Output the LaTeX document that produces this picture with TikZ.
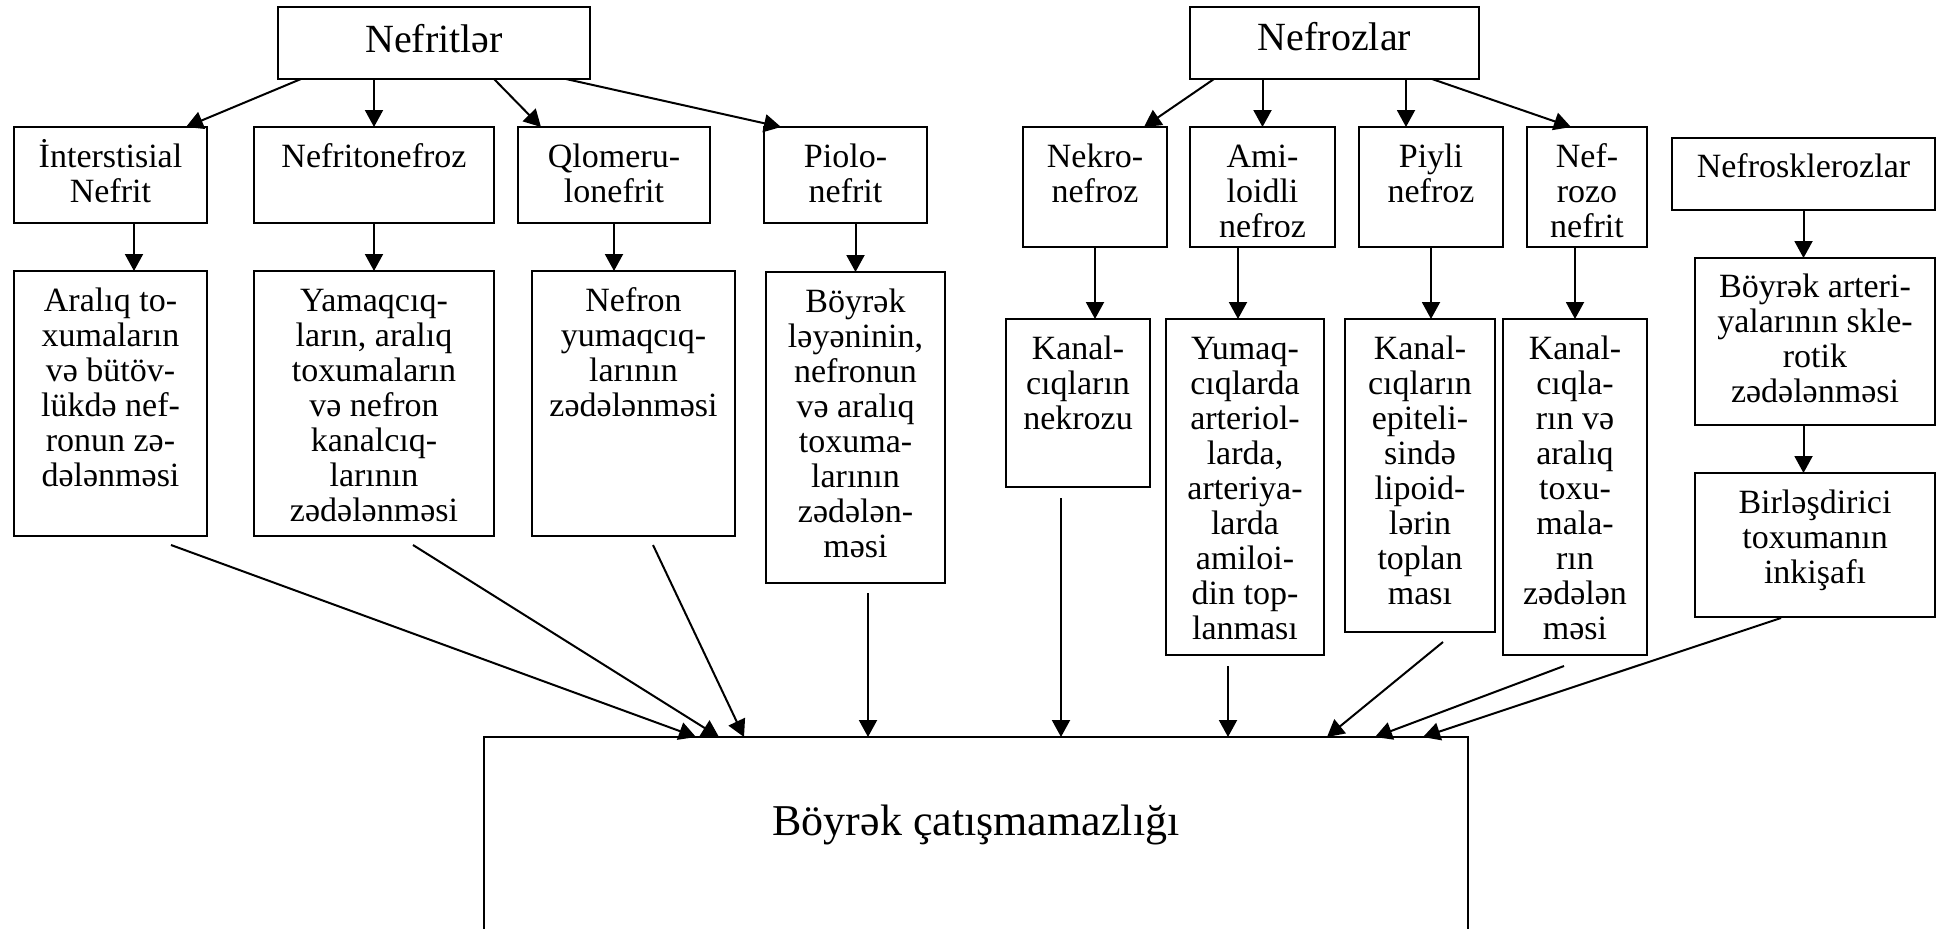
\documentclass[tikz,border=0pt]{standalone}
\usepackage{fontspec}
\setmainfont{Liberation Serif}
\usetikzlibrary{arrows.meta,calc}
\newcommand{\mybox}[8]{%
 \pgfmathsetmacro{\mybw}{(#6-#4)/2}%
 \pgfmathsetmacro{\mybh}{(#7-#5)/2}%
 \node[bx,#1] (#3) at ({(#4+#6)/2},{(#5+#7)/2}) {\parbox[c][\mybh pt][t]{\mybw pt}{\lineskiplimit=-30pt\lineskip=0pt\centering\rule{0pt}{#2}#8}};}
\begin{document}
\begin{tikzpicture}[x=0.5pt,y=-0.5pt,
  bx/.style={draw, line width=1.1pt, inner sep=0pt, outer sep=0pt, font=\fontsize{17}{17.5}\selectfont},
  ttl/.style={font=\fontsize{20}{22}\selectfont},
  big/.style={font=\fontsize{22}{24}\selectfont},
  txt/.style={inner sep=0pt, font=\fontsize{17}{17.5}\selectfont},
  arr/.style={-{Triangle[length=8.5pt,width=9pt]}, line width=1pt}]
\useasboundingbox (0,0) rectangle (1950,928);
% top
\mybox{ttl}{22.5pt}{nefritler}{278}{7}{590}{79}{Nefritlər}
\mybox{ttl}{21.5pt}{nefrozlar}{1190}{7}{1479}{79}{Nefrozlar}
% row 2
\mybox{}{20pt}{interst}{14}{127}{207}{223}{İnterstisial\\Nefrit}
\mybox{}{20pt}{nefritonefroz}{254}{127}{494}{223}{Nefritonefroz}
\mybox{}{20pt}{qlomeru}{518}{127}{710}{223}{Qlomeru-\\lonefrit}
\mybox{}{20pt}{piolo}{764}{127}{927}{223}{Piolo-\\nefrit}
\mybox{}{20pt}{nekro}{1023}{127}{1167}{247}{Nekro-\\nefroz}
\mybox{}{20pt}{ami}{1190}{127}{1335}{247}{Ami-\\loidli}
\mybox{}{20pt}{piyli}{1359}{127}{1503}{247}{Piyli\\nefroz}
\mybox{}{20pt}{nefrozo}{1527}{127}{1647}{247}{Nef-\\rozo\\nefrit}
\mybox{}{19.5pt}{nefroskl}{1672}{138}{1935}{210}{Nefrosklerozlar}
\begin{scope}
\clip (ami.north west) rectangle ([yshift=5.5pt]ami.south east);
\node[txt, anchor=base] (amit) at ([yshift=-55pt]ami.north) {nefroz};
\end{scope}
% row 3
\mybox{}{20pt}{aral}{14}{271}{207}{536}{Aralıq to-\\xumaların\\və bütöv-\\lükdə nef-\\ronun zə-\\dələnməsi}
\mybox{}{20pt}{yamaq}{254}{271}{494}{536}{Yamaqcıq-\\ların, aralıq\\toxumaların\\və nefron\\kanalcıq-\\larının\\zədələnməsi}
\mybox{}{20pt}{nefron}{532}{271}{735}{536}{Nefron\\yumaqcıq-\\larının\\zədələnməsi}
\mybox{}{20pt}{boyrekA}{766}{272}{945}{583}{Böyrək\\ləyəninin,\\nefronun\\və aralıq\\toxuma-\\larının\\zədələn-\\məsi}
\mybox{}{20pt}{kanalA}{1006}{319}{1150}{487}{Kanal-\\cıqların\\nekrozu}
\mybox{}{20pt}{yumaq}{1166}{319}{1324}{655}{Yumaq-\\cıqlarda\\arteriol-\\larda,\\arteriya-\\larda\\amiloi-\\din top-\\lanması}
\mybox{}{20pt}{kanalB}{1345}{319}{1495}{632}{Kanal-\\cıqların\\epiteli-\\sində\\lipoid-\\lərin\\toplan\\ması}
\mybox{}{20pt}{kanalC}{1503}{319}{1647}{655}{Kanal-\\cıqla-\\rın və\\aralıq\\toxu-\\mala-\\rın\\zədələn\\məsi}
\mybox{}{19.5pt}{arteri}{1695}{258}{1935}{425}{Böyrək arteri-\\yalarının skle-\\rotik\\zədələnməsi}
\mybox{}{20pt}{birles}{1695}{473}{1935}{617}{Birləşdirici\\toxumanın\\inkişafı}
% bottom
\mybox{big}{49pt}{bottom}{484}{737}{1468}{960}{Böyrək çatışmamazlığı}
% arrows from Nefritler
\draw[arr] ([xshift=-66.5pt]nefritler.south) -- ([xshift=37.75pt]interst.north);
\draw[arr] ([xshift=-30pt]nefritler.south) -- (nefritonefroz.north);
\draw[arr] ([xshift=30pt]nefritler.south) -- ([xshift=-36.5pt]qlomeru.north);
\draw[arr] ([xshift=66pt]nefritler.south) -- ([xshift=-32.25pt]piolo.north);
\draw[arr] ([xshift=11.75pt]interst.south) -- ([xshift=11.75pt]aral.north);
\draw[arr] (nefritonefroz.south) -- (yamaq.north);
\draw[arr] (qlomeru.south) -- (qlomeru.south |- nefron.north);
\draw[arr] (boyrekA.north |- piolo.south) -- (boyrekA.north);
% arrows from Nefrozlar
\draw[arr] ([xshift=-60.25pt]nefrozlar.south) -- ([xshift=24.5pt]nekro.north);
\draw[arr] (ami.north |- nefrozlar.south) -- (ami.north);
\draw[arr] ([xshift=35.75pt]nefrozlar.south) -- ([xshift=-12.5pt]piyli.north);
\draw[arr] ([xshift=48.75pt]nefrozlar.south) -- ([xshift=-8pt]nefrozo.north);
\draw[arr] (nekro.south) -- (nekro.south |- kanalA.north);
\coordinate (amis) at ([xshift=-12.25pt]ami.south);
\draw[arr] (amis) -- (amis |- yumaq.north);
\draw[arr] (piyli.south) -- (piyli.south |- kanalB.north);
\coordinate (nefrozos) at ([xshift=-6pt]nefrozo.south);
\draw[arr] (nefrozos) -- (nefrozos |- kanalC.north);
\draw[arr] (nefroskl.south) -- (nefroskl.south |- arteri.north);
\draw[arr] (nefroskl.south |- arteri.south) -- (nefroskl.south |- birles.north);
% arrows to bottom
\draw[arr] ([xshift=30.25pt,yshift=-4.5pt]aral.south) -- ([xshift=-140pt]bottom.north);
\draw[arr] ([xshift=19.5pt,yshift=-4.5pt]yamaq.south) -- ([xshift=-128.5pt]bottom.north);
\draw[arr] ([xshift=9.75pt,yshift=-4.5pt]nefron.south) -- ([xshift=-116pt]bottom.north);
\draw[arr] ([xshift=6.25pt,yshift=-5pt]boyrekA.south) -- ([xshift=-54pt]bottom.north);
\draw[arr] ([xshift=-8.5pt,yshift=-5.5pt]kanalA.south) -- ([xshift=42.5pt]bottom.north);
\draw[arr] ([xshift=-8.5pt,yshift=-5.5pt]yumaq.south) -- ([xshift=126pt]bottom.north);
\draw[arr] ([xshift=11.5pt,yshift=-5pt]kanalB.south) -- ([xshift=175.5pt]bottom.north);
\draw[arr] ([xshift=-5.5pt,yshift=-5.5pt]kanalC.south) -- ([xshift=199.5pt]bottom.north);
\draw[arr] ([xshift=-17pt,yshift=-0.5pt]birles.south) -- ([xshift=223.5pt]bottom.north);
\end{tikzpicture}
\end{document}
